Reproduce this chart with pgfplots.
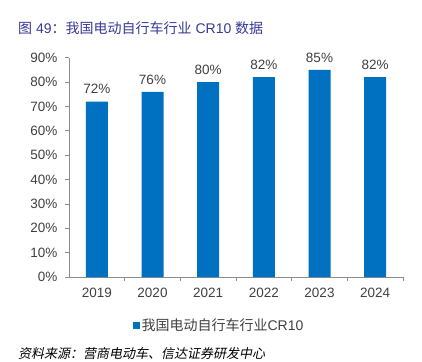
\documentclass[border=0pt]{standalone}
\usepackage{pgfplots}
\pgfplotsset{compat=1.18}
\usepackage{fontspec}
\setmainfont{Liberation Sans}
\newfontfamily\cjk{Noto Sans CJK SC}
\newfontfamily\cjkit[FakeSlant=0.2]{Noto Sans CJK SC}
\definecolor{barblue}{HTML}{0070C0}
\definecolor{titleblue}{RGB}{56,56,152}
\definecolor{txt}{HTML}{404040}
\definecolor{axisgray}{HTML}{8C8C8C}
\begin{document}
\begin{tikzpicture}
\path[use as bounding box] (0,0) rectangle (422pt,361pt);
\node[anchor=base west, inner sep=0pt, text=titleblue, font=\fontsize{14}{16}\selectfont] at (18pt,327pt) {{\cjk 图} 49{\cjk ：我国电动自行车行业} CR10 {\cjk 数据}};
\begin{axis}[
  at={(69pt,84pt)}, anchor=south west,
  scale only axis, width=334pt, height=219.3pt,
  xmin=-0.5, xmax=5.5, ymin=0, ymax=90,
  axis x line*=bottom, axis y line*=left,
  axis line style={draw=axisgray, line width=0.8pt},
  xtick={0,...,5}, xticklabels={2019,2020,2021,2022,2023,2024},
  major x tick style={draw=none},
  minor xtick={0.5,1.5,2.5,3.5,4.5,5.5},
  minor x tick style={draw=axisgray, line width=0.8pt},
  minor tick length=4pt,
  ytick={0,10,...,90},
  major y tick style={draw=axisgray, line width=0.8pt},
  major tick length=4pt,
  tick align=outside,
  yticklabel={\pgfmathprintnumber{\tick}\%},
  /pgf/number format/assume math mode=true,
  ticklabel style={font=\fontsize{13.5}{16}\selectfont, text=txt},
  xticklabel style={yshift=-4pt},
  yticklabel style={xshift=-4pt},
  ybar, bar width=22pt,
  nodes near coords={\pgfmathprintnumber{\pgfplotspointmeta}\%},
  every node near coord/.append style={font=\fontsize{13.5}{16}\selectfont, text=txt, yshift=4pt},
  legend style={at={(0.449,-0.219)}, anchor=center, draw=none, fill=none,
    font=\fontsize{14}{16}\selectfont, text=txt, inner sep=0pt},
  legend image code/.code={\fill[barblue] (0pt,-3.5pt) rectangle (7pt,3.5pt);},
]
\addplot[fill=barblue, draw=none] coordinates {(0,72) (1,76) (2,80) (3,82) (4,85) (5,82)};
\addlegendentry{{\cjk 我国电动自行车行业}CR10}
\end{axis}
\node[anchor=base west, inner sep=0pt, text=black, font=\fontsize{13}{16}\selectfont] at (18pt,2.2pt) {\cjkit 资料来源：营商电动车、信达证券研发中心};
\end{tikzpicture}
\end{document}
